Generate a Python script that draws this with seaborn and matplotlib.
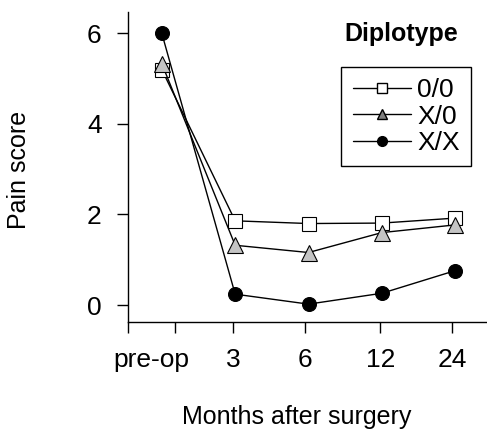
import numpy as np
import pandas as pd
import matplotlib
matplotlib.use("Agg")
import matplotlib.pyplot as plt
from matplotlib.lines import Line2D
import seaborn as sns

# data
months = ["pre-op", "3", "6", "12", "24"]
score_00 = [5.20, 1.86, 1.80, 1.81, 1.92]
score_x0 = [5.33, 1.32, 1.16, 1.60, 1.77]
score_xx = [6.00, 0.24, 0.02, 0.26, 0.76]
groups = ["0/0", "X/0", "X/X"]

df = pd.DataFrame({
    "pos": list(range(len(months))) * 3,
    "score": score_00 + score_x0 + score_xx,
    "Diplotype": np.repeat(groups, len(months)),
})

sns.set_style("white")
plt.rcParams["font.family"] = ["Liberation Sans", "DejaVu Sans"]
plt.rcParams["text.color"] = "black"
plt.rcParams["axes.labelcolor"] = "black"
plt.rcParams["xtick.color"] = "black"
plt.rcParams["ytick.color"] = "black"

fig = plt.figure(figsize=(4.87, 4.32), dpi=100)
ax = fig.add_axes([0.263, 0.2546, 0.735, 0.7174])

styles = {
    "0/0": dict(marker="s", markerfacecolor="white", markersize=9.5),
    "X/0": dict(marker="^", markerfacecolor="#c4c4c4", markersize=11.5),
    "X/X": dict(marker="o", markerfacecolor="black", markersize=10),
}
for g in groups:
    sns.lineplot(data=df[df["Diplotype"] == g], x="pos", y="score", ax=ax,
                 color="black", linewidth=1, markeredgecolor="black",
                 markeredgewidth=0.8, legend=False, **styles[g])

ax.set_xlim(-0.46, 4.42)
ax.set_ylim(-0.375, 6.47)
ax.set_yticks([0, 2, 4, 6])
ax.tick_params(axis="y", labelsize=19, length=8, width=1, direction="out",
               left=True, color="black", labelcolor="black", pad=11)

# tick marks in between, labels under the months (pre-op label sits between ticks)
ax.set_xticks([-0.46, 0.18, 0.97, 1.95, 2.98, 3.96])
ax.set_xticklabels(["", "", "3", "6", "12", "24"])
ax.tick_params(axis="x", which="major", length=8, width=1, direction="out",
               bottom=True, color="black", labelcolor="black", labelsize=19, pad=11)
ax.set_xticks([-0.14], minor=True)
ax.set_xticklabels(["pre-op"], minor=True)
ax.tick_params(axis="x", which="minor", length=0, labelsize=19, pad=19,
               labelcolor="black")

for side in ["top", "right"]:
    ax.spines[side].set_visible(False)
for side in ["left", "bottom"]:
    ax.spines[side].set_color("black")
    ax.spines[side].set_linewidth(1)

ax.set_xlabel("Months after surgery", fontsize=18, color="black")
ax.set_ylabel("Pain score", fontsize=18, color="black")
ax.xaxis.set_label_coords(0.472, -0.268)
ax.yaxis.set_label_coords(-0.27, 0.49)

handles = [
    Line2D([], [], color="black", lw=1, marker="s", markerfacecolor="white",
           markeredgecolor="black", markersize=6.5),
    Line2D([], [], color="black", lw=1, marker="^", markerfacecolor="#808080",
           markeredgecolor="black", markersize=7.5),
    Line2D([], [], color="black", lw=1, marker="o", markerfacecolor="black",
           markeredgecolor="black", markersize=7),
]
leg = ax.legend(handles, groups, loc="upper right",
                bbox_to_anchor=(0.967, 0.845), bbox_transform=fig.transFigure,
                fontsize=19, frameon=True, fancybox=False, framealpha=1,
                edgecolor="black", handlelength=2.2, handletextpad=0.25,
                labelspacing=0.1, borderpad=0.42, borderaxespad=0)
leg.get_frame().set_linewidth(1)
for t in leg.get_texts():
    t.set_color("black")

fig.text(0.823, 0.921, "Diplotype", fontsize=18, fontweight="bold",
         color="black", ha="center", va="center")

fig.savefig("out.png", dpi=100)
